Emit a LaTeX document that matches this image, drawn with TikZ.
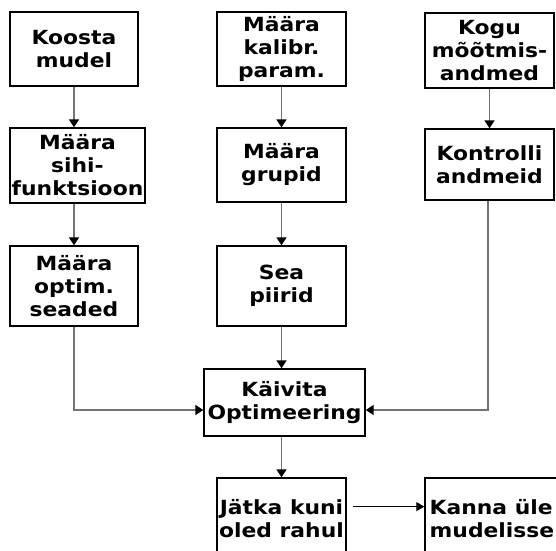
\documentclass[tikz,border=0pt]{standalone}
\usepackage{fontspec}
\setmainfont{DejaVu Sans}[FakeStretch=1.12]
\usetikzlibrary{arrows.meta}
\tikzset{
  box/.style={draw=black, line width=1.4pt, inner sep=0pt, align=center,
    font=\bfseries\fontsize{19.5}{23}\selectfont},
  txt/.style={inner sep=0pt, font=\bfseries\fontsize{19.5}{23}\selectfont},
  conn/.style={draw=black!55, line width=1.6pt, -{Triangle[length=8pt,width=10pt,color=black]}},
  thin/.style={draw=black, line width=1pt, -{Triangle[length=8pt,width=9pt,color=black]}}
}
\begin{document}
\begin{tikzpicture}[x=1pt,y=-1pt]
\useasboundingbox (0,0) rectangle (556,550);
\clip (0,0) rectangle (556,550);
% column 1
\node[box, minimum width=128pt, minimum height=74pt] (kmud) at (74,49) {Koosta\\mudel};
\node[box, minimum width=135pt, minimum height=75pt] (sihi) at (77.5,165.5) {Määra\\sihi-\\funktsioon};
\node[box, minimum width=128pt, minimum height=80pt] (optim) at (74,286) {Määra\\optim.\\seaded};
% column 2
\node[box, minimum width=129pt, minimum height=74pt] (kalib) at (281.5,49) {Määra\\kalibr.\\param.};
\node[box, minimum width=129pt, minimum height=74pt] (grup) at (281.5,165) {Määra\\grupid};
\node[box, minimum width=129pt, minimum height=80pt] (sea) at (281.5,286) {Sea\\piirid};
% column 3
\node[box, minimum width=129pt, minimum height=75pt] (kogu) at (489.5,50.5) {Kogu\\mõõtmis-\\andmed};
\node[box, minimum width=129pt, minimum height=71pt] (kontr) at (489.5,164.5) {Kontrolli\\andmeid};
% centre
\node[box, minimum width=161pt, minimum height=67pt] (kaiv) at (284.5,402.5) {Käivita\\Optimeering};
% bottom
\node[box, minimum width=129pt, minimum height=92pt] (jatka) at (281.5,524) {};
\node[txt, align=center] (jatkat) at (281.5,519) {Jätka kuni\\oled rahul};
\node[box, minimum width=145pt, minimum height=92pt] (kanna) at (497.5,524) {};
\node[txt, align=left, anchor=west] (kannat) at (429.5,519) {Kanna üle\\mudelisse};
% connectors
\draw[conn] (kmud.south) -- (kmud.south |- sihi.north);
\draw[conn] (optim.north |- sihi.south) -- (optim.north);
\draw[conn] (kalib.south) -- (grup.north);
\draw[conn] (grup.south) -- (sea.north);
\draw[conn] (kogu.south) -- (kontr.north);
\draw[conn] (sea.south) -- (sea.south |- kaiv.north);
\draw[conn] (optim.south) |- ([yshift=-7.5pt]kaiv.west);
\draw[conn] ([xshift=-1.5pt]kontr.south) |- ([yshift=-7.5pt]kaiv.east);
\draw[conn] (kaiv.south -| jatka.north) -- (jatka.north);
\draw[thin, shorten <=6pt] ([yshift=-7pt]jatka.east |- jatkat.north) -- ([yshift=-7pt]kanna.west |- jatkat.north);
\end{tikzpicture}
\end{document}
